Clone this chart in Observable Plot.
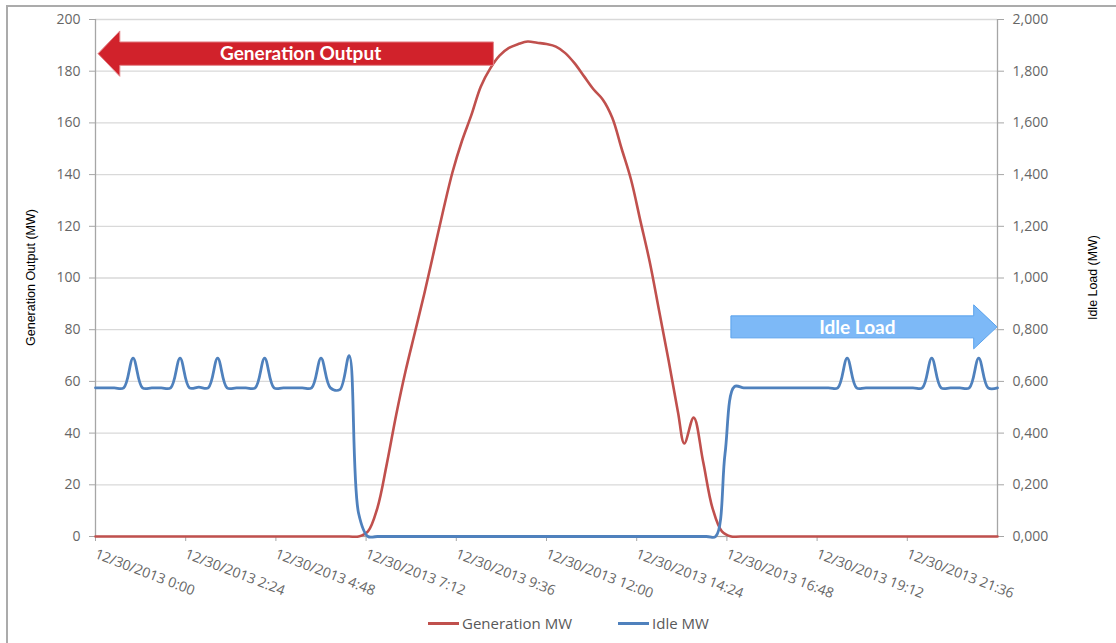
<!DOCTYPE html>
<html>
<head>
<meta charset="utf-8">
<script src="https://cdn.jsdelivr.net/npm/d3@7"></script>
<script src="https://cdn.jsdelivr.net/npm/@observablehq/plot@0.6"></script>
<style>
  body { margin: 0; background: #fff; }
  #wrap { position: relative; width: 1116px; height: 643px; overflow: hidden; background: #fff; }
  #frame { position: absolute; left: 6px; top: 5px; width: 1200px; height: 700px; border: 2px solid #ababab; box-sizing: border-box; }
  #chart { position: absolute; left: 0; top: 0; }
  #legend { position: absolute; left: 428px; top: 613px; display: flex; align-items: center; font-family: "Open Sans", sans-serif; font-size: 15px; color: #595959; }
  .item { display: flex; align-items: center; margin-right: 46px; }
  .swatch { width: 31px; height: 3px; margin-right: 3px; }
</style>
</head>
<body>
<div id="wrap">
  <div id="frame"></div>
  <div id="chart"></div>
  <div id="legend"></div>
</div>
<script>
// ---- Data ----
const seriesNames = ["Generation MW", "Idle MW"];
const seriesColors = ["#C0504D", "#4F81BD"];

// Generation output (MW)
const genTimes  = ["0:00","0:15","6:30","6:45","7:00","7:15","7:30","7:45","8:00","8:15","8:30","8:45","9:00","9:15","9:30","9:45",
                   "10:00","10:15","10:30","10:45","11:00","11:15","11:30","11:45","12:00","12:15","12:30","12:45",
                   "13:00","13:15","13:30","13:45","14:00","14:15","14:30","14:45","15:00","15:15","15:30","15:40",
                   "15:55","16:10","16:25","16:40","16:55","17:10","23:45","24:00"];
const genValues = [0, 0, 0, 0, 0, 2, 11, 28, 47, 64, 79, 94, 110, 126, 141, 153,
                   163, 174, 181, 186, 189, 190.5, 191.5, 191, 190.5, 189.5, 187, 183,
                   178, 173, 169, 162, 150, 138, 122, 106, 87, 68, 48, 36,
                   46, 29, 11, 2, 0, 0, 0, 0];

// Idle load (MW)
const idleTimes  = ["0:00","0:15","0:30","0:45","1:00","1:15","1:30","1:45","2:00","2:15","2:30","2:45","3:00","3:15","3:30",
                    "3:45","4:00","4:15","4:30","4:45","5:00","5:30","5:45","6:00","6:15","6:30","6:45","7:00","7:15","7:30",
                    "16:15","16:30","16:45","17:00","17:15","17:30","19:30","19:45","20:00","20:15","20:30","21:45","22:00",
                    "22:15","22:30","22:45","23:00","23:15","23:30","23:45","24:00"];
const idleValues = [0.575, 0.575, 0.575, 0.575, 0.69, 0.575, 0.575, 0.575, 0.575, 0.69, 0.575, 0.578, 0.575, 0.69, 0.575,
                    0.575, 0.575, 0.575, 0.69, 0.575, 0.575, 0.575, 0.575, 0.69, 0.575, 0.568, 0.70, 0.09, 0, 0,
                    0, 0, 0.32, 0.58, 0.575, 0.575, 0.575, 0.575, 0.69, 0.575, 0.575, 0.575, 0.575,
                    0.69, 0.575, 0.575, 0.575, 0.575, 0.69, 0.575, 0.575];

// Axes
const leftTicks = [0, 20, 40, 60, 80, 100, 120, 140, 160, 180, 200];
const rightTicks = [0, 0.2, 0.4, 0.6, 0.8, 1.0, 1.2, 1.4, 1.6, 1.8, 2.0];
const xTickHours = [0, 2.4, 4.8, 7.2, 9.6, 12, 14.4, 16.8, 19.2, 21.6];
const xTickLabels = ["12/30/2013 0:00","12/30/2013 2:24","12/30/2013 4:48","12/30/2013 7:12","12/30/2013 9:36",
                     "12/30/2013 12:00","12/30/2013 14:24","12/30/2013 16:48","12/30/2013 19:12","12/30/2013 21:36"];
const leftTitle = "Generation Output (MW)";
const rightTitle = "Idle Load (MW)";
const axisRatio = 200 / 2; // left max / right max

// Annotation arrows (in data units)
const genArrow  = {label: "Generation Output", tip: 0.08, neck: 0.66, tail: 10.6, level: 186.6};
const idleArrow = {label: "Idle Load", tail: 16.92, neck: 23.38, tip: 24, level: 0.809};

// ---- Build ----
const toHours = s => { const [h, m] = s.split(":").map(Number); return h + m / 60; };
const gen = genTimes.map((t, i) => ({h: toHours(t), v: genValues[i]}));
const idle = idleTimes.map((t, i) => ({h: toHours(t), v: idleValues[i] * axisRatio}));

const gridColor = "#d9d9d9";
const axisColor = "#a6a6a6";
const tickText = "#666666";

const plot = Plot.plot({
  width: 1116,
  height: 612,
  marginLeft: 95,
  marginRight: 119,
  marginTop: 19,
  marginBottom: 76,
  style: {fontFamily: "'Open Sans', sans-serif", fontSize: "14px", background: "transparent", overflow: "visible"},
  x: {domain: [0, 24]},
  y: {domain: [0, 200]},
  marks: [
    Plot.gridY(leftTicks, {stroke: gridColor, strokeOpacity: 1, strokeWidth: 1.3}),
    Plot.ruleX([0, 24], {stroke: axisColor, strokeWidth: 1.3}),
    Plot.ruleY([0], {stroke: axisColor}),
    Plot.axisY(leftTicks, {anchor: "left", tickSize: 6, tickPadding: 9, stroke: axisColor, fill: tickText, label: null}),
    Plot.axisY(rightTicks.map(v => v * axisRatio), {
      anchor: "right", tickSize: 6, tickPadding: 9, stroke: axisColor, fill: tickText, label: null,
      tickFormat: d => (d / axisRatio).toFixed(3).replace(".", ",")
    }),
    Plot.axisX(xTickHours, {
      anchor: "bottom", tickSize: 5, tickPadding: 12, tickRotate: 21, stroke: axisColor, fill: tickText, label: null,
      tickFormat: d => xTickLabels[xTickHours.indexOf(d)]
    }),
    Plot.line(gen, {x: "h", y: "v", stroke: seriesColors[0], strokeWidth: 2.6, curve: "catmull-rom"}),
    Plot.line(idle, {x: "h", y: d => Math.max(0, d.v), stroke: seriesColors[1], strokeWidth: 2.8, curve: "catmull-rom"})
  ]
});

// Annotations positioned via the plot's own scales
const sx = plot.scale("x"), sy = plot.scale("y");
const svg = d3.select(plot);
const yMid = (sy.apply(0) + sy.apply(200)) / 2;

// Axis titles (condensed like the original)
svg.append("text")
  .attr("transform", `translate(${sx.apply(0) - 64},${yMid}) rotate(-90)`)
  .attr("text-anchor", "middle").attr("dy", "0.35em")
  .attr("font-family", "'Liberation Sans', sans-serif").attr("font-size", 12.5).attr("fill", "#000")
  .attr("textLength", 137).attr("lengthAdjust", "spacingAndGlyphs")
  .text(leftTitle);
svg.append("text")
  .attr("transform", `translate(${sx.apply(24) + 96},${yMid}) rotate(-90)`)
  .attr("text-anchor", "middle").attr("dy", "0.35em")
  .attr("font-family", "'Liberation Sans', sans-serif").attr("font-size", 12.5).attr("fill", "#000")
  .attr("textLength", 85).attr("lengthAdjust", "spacingAndGlyphs")
  .text(rightTitle);

function arrow(x0, xNeck, xTail, yc, bh, hh) {
  return `M${x0},${yc} L${xNeck},${yc - hh} L${xNeck},${yc - bh} L${xTail},${yc - bh} L${xTail},${yc + bh} L${xNeck},${yc + bh} L${xNeck},${yc + hh} Z`;
}
{
  const yc = sy.apply(genArrow.level);
  const x0 = sx.apply(genArrow.tip), xn = sx.apply(genArrow.neck), xt = sx.apply(genArrow.tail);
  svg.append("path").attr("d", arrow(x0, xn, xt, yc, 11.7, 22.7))
    .attr("fill", "#D1222B").attr("stroke", "#E3858A").attr("stroke-width", 1);
  svg.append("text").attr("x", (xn + xt) / 2 - 6).attr("y", yc).attr("dy", "0.35em")
    .attr("text-anchor", "middle").attr("fill", "#fff").attr("font-family", "Lato, sans-serif")
    .attr("font-weight", "bold").attr("font-size", 19).text(genArrow.label);
}
{
  const yc = sy.apply(idleArrow.level * axisRatio);
  const x0 = sx.apply(idleArrow.tip), xn = sx.apply(idleArrow.neck), xt = sx.apply(idleArrow.tail);
  svg.append("path").attr("d", arrow(x0, xn, xt, yc, 11, 22))
    .attr("fill", "#7DB9F7").attr("stroke", "#5AA2EC").attr("stroke-width", 1);
  svg.append("text").attr("x", (xn + xt) / 2 + 5).attr("y", yc).attr("dy", "0.35em")
    .attr("text-anchor", "middle").attr("fill", "#fff").attr("font-family", "Lato, sans-serif")
    .attr("font-weight", "bold").attr("font-size", 19).text(idleArrow.label);
}

document.getElementById("chart").appendChild(plot);

// Legend
const legend = document.getElementById("legend");
seriesNames.forEach((name, i) => {
  const item = document.createElement("div");
  item.className = "item";
  const sw = document.createElement("div");
  sw.className = "swatch";
  sw.style.background = seriesColors[i];
  const label = document.createElement("span");
  label.textContent = name;
  item.appendChild(sw);
  item.appendChild(label);
  legend.appendChild(item);
});
</script>
</body>
</html>
